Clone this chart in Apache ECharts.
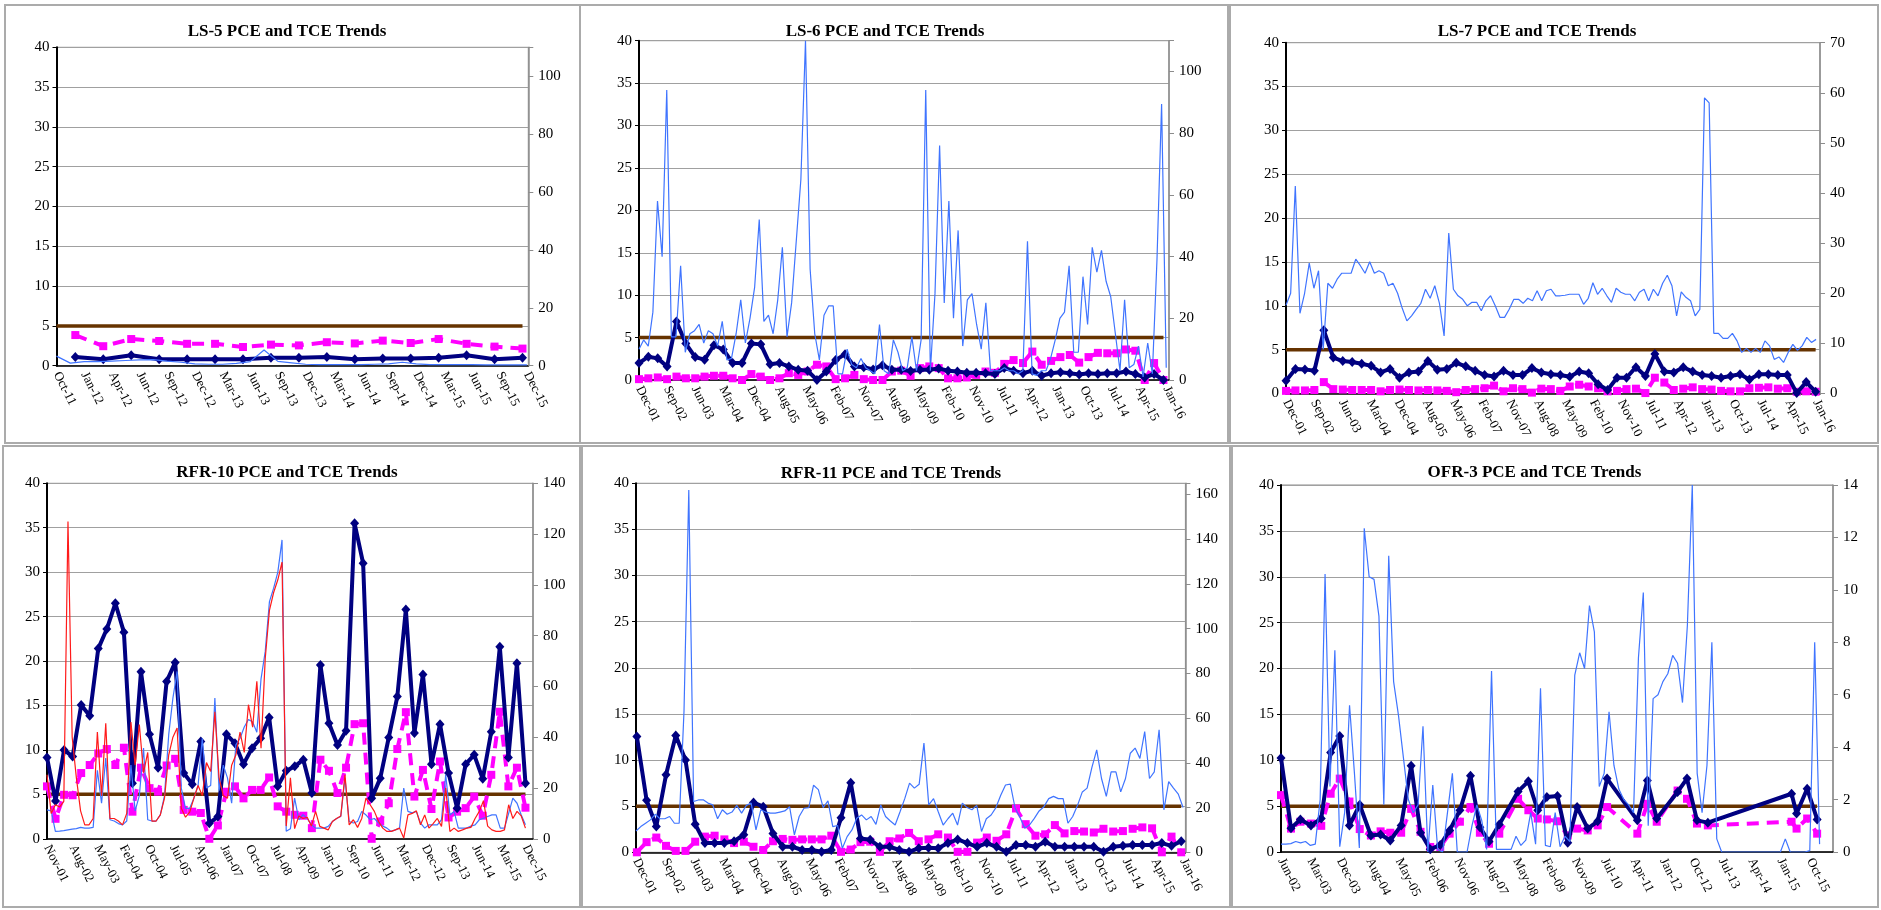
<!DOCTYPE html>
<html><head><meta charset="utf-8">
<script src="https://cdn.jsdelivr.net/npm/echarts@6/dist/echarts.min.js"></script>
<style>html,body{margin:0;padding:0;background:#fff}#c{width:1881px;height:910px}</style>
</head><body><div id="c"></div>
<script>
// ---------- DATA ----------
const MCL = 5;

const ls5Title = 'LS-5 PCE and TCE Trends';
const ls5Labels = ['Oct-11','Jan-12','Apr-12','Jun-12','Sep-12','Dec-12','Mar-13','Jun-13','Sep-13','Dec-13','Mar-14','Jun-14','Sep-14','Dec-14','Mar-15','Jun-15','Sep-15','Dec-15'];
const ls5Pce = [1.1,0.8,1.3,0.8,0.8,0.8,0.8,1.0,1.0,1.1,0.8,0.9,0.9,1.0,1.3,0.8,1.0];
const ls5Tce = [3.85,2.45,3.35,3.1,2.75,2.75,2.35,2.65,2.55,2.95,2.8,3.15,2.85,3.35,2.75,2.4,2.15];
const ls5Blue = [3.3,0.9,1.4,1.4,1.6,1.8,2.0,2.1,1.6,1.2,0.6,0.5,0.5,0.8,1.4,5.4,1.5,1.0,0.5,0.4,0.4,0.4,0.4,0.5,0.6,1.2,0.6,0.4,0.4,0.4,0.4,0.3,0.3,0.3,0.3];

const ls6Title = 'LS-6 PCE and TCE Trends';
const ls6Labels = ['Dec-01','Sep-02','Jun-03','Mar-04','Dec-04','Aug-05','May-06','Feb-07','Nov-07','Aug-08','May-09','Feb-10','Nov-10','Jul-11','Apr-12','Jan-13','Oct-13','Jul-14','Apr-15','Jan-16'];
const ls6Pce = [2.0,2.75,2.55,1.6,6.9,4.3,2.7,2.4,4.1,3.6, 2.0,2.0,4.3,4.2,1.85,2.0,1.6,1.2,1.1,0.0, 1.0,2.35,3.05,1.6,1.5,1.25,1.75,1.2,1.2,1.05, 1.2,1.2,1.35,1.1,1.0,0.85,0.85,0.8,0.7,1.4, 1.1,0.8,1.1,0.5,0.8,0.9,0.8,0.65,0.8,0.7, 0.8,0.8,1.0,0.7,0.3,0.7,0.0];
const ls6Tce = [0.1,0.2,0.3,0.1,0.4,0.2,0.2,0.4,0.5,0.5, 0.2,0.0,0.7,0.4,0.0,0.2,0.8,0.6,1.0,1.8, 1.6,0.1,0.2,0.6,0.1,0.0,0.0,1.0,1.1,0.5, 1.4,1.6,1.4,0.2,0.2,0.3,0.6,1.0,0.85,1.9, 2.35,2.0,3.35,1.8,2.25,2.7,2.95,2.05,2.7,3.2, 3.15,3.15,3.6,3.45,0.0,2.0,0.0];
const ls6Blue = [10,13,11,22,58,40,94,14,14,37, 9,15,16,18,12,16,15,11,19,6.5, 7,15,26,12,20,30,52,19,21,15, 26,43,14,25,45,65,110,36,15,6.5, 21,24,24,2,2,10,5,4,7,4, 3,2,18,3,2,13,9,3,4,14, 3,13,94,3,28,76,25,58,20,48.5, 11,26,28,18,10,25,3,3,3,4, 3,3,2,3,45,2,1.5,3,3,7, 13,20,22,37,9,9,33.5,18,43,35, 42,32,27,15,3,26,4,5,11,1, 12,2,39,89.5,4];

const ls7Title = 'LS-7 PCE and TCE Trends';
const ls7Labels = ['Dec-01','Sep-02','Jun-03','Mar-04','Dec-04','Aug-05','May-06','Feb-07','Nov-07','Aug-08','May-09','Feb-10','Nov-10','Jul-11','Apr-12','Jan-13','Oct-13','Jul-14','Apr-15','Jan-16'];
const ls7Pce = [1.45,2.8,2.75,2.6,7.2,4.1,3.7,3.6,3.4,3.15, 2.4,2.8,1.8,2.4,2.5,3.7,2.7,2.8,3.5,3.1, 2.6,2.1,1.95,2.6,2.1,2.1,2.9,2.4,2.2,2.1, 1.9,2.5,2.3,1.05,0.4,1.8,1.8,3.0,2.0,4.5, 2.5,2.4,3.0,2.5,2.1,2.0,1.8,2.0,2.2,1.6, 2.2,2.2,2.1,2.1,0.05,1.3,0.2];
const ls7Tce = [0.3,0.35,0.35,0.4,1.3,0.5,0.45,0.4,0.4,0.4, 0.25,0.4,0.45,0.4,0.35,0.4,0.35,0.3,0.15,0.4, 0.5,0.6,0.9,0.25,0.6,0.5,0.1,0.55,0.5,0.3, 0.8,1.0,0.8,0.6,0.25,0.3,0.5,0.55,0.05,1.8, 1.25,0.4,0.55,0.7,0.5,0.45,0.3,0.25,0.25,0.6, 0.65,0.7,0.55,0.6,0.2,0.25,0.2];
const ls7Blue = [17.6,20,41.4,16,20,26,21,24.5,8.8,22, 21,22.8,24,24,24,26.8,25.5,24,26.3,24, 24.5,24,21.5,22,20,17,14.5,15.5,16.8,18, 20.8,19,21.5,18,11.5,32,20.8,19.5,18.8,17.5, 18.2,18.2,16.5,18.5,19.5,17.5,15.2,15.2,16.8,18.8, 18.8,18,19,18.5,20.5,18.5,20.5,20.8,19.5,19.5, 19.6,19.8,19.8,19.8,17.8,19,22.1,19.8,21,19.5, 18.2,21,20.2,19.8,19.8,18.5,20.2,20.8,18.5,20.8, 19.5,22,23.6,21.5,15.5,20.3,19.2,18.5,15.5,16.8, 59,58,12,12,11,11,12,10.5,8.2,9, 8.2,9,8.2,10.5,9.5,6.8,7.3,6.2,8.2,9.8, 8.6,9.5,11.2,10.2,10.8];

const rfr10Title = 'RFR-10 PCE and TCE Trends';
const rfr10Labels = ['Nov-01','Aug-02','May-03','Feb-04','Oct-04','Jul-05','Apr-06','Jan-07','Oct-07','Jul-08','Apr-09','Jan-10','Sep-10','Jun-11','Mar-12','Dec-12','Sep-13','Jun-14','Mar-15','Dec-15'];
const rfr10Pce = [9.15,4.25,10.0,9.25,15.05,13.85,21.4,23.6,26.5,23.25, 6.25,18.8,11.75,8.0,17.7,19.85,7.4,6.15,10.95,1.75, 2.5,11.75,10.75,8.4,10.2,11.3,13.65,5.9,7.65,8.15, 8.9,5.15,19.55,13.0,10.55,12.15,35.5,31.0,4.55,6.8, 11.4,16.0,25.8,11.9,18.5,8.4,12.9,7.4,3.45,8.4, 9.45,6.75,12.05,21.6,9.15,19.75,6.25];
const rfr10Tce = [5.9,2.25,4.95,4.9,7.4,8.3,9.6,10.1,8.3,10.25, 3.05,8.0,5.7,5.3,8.25,9.0,3.25,3.05,2.9,0.0, 1.5,5.3,5.9,4.55,5.5,5.5,6.9,3.65,3.05,2.7, 2.6,1.2,8.9,7.65,5.15,8.0,12.9,13.0,0.0,1.95, 4.0,10.1,14.25,4.75,7.75,3.35,8.7,2.4,3.05,3.45, 4.75,2.6,7.2,14.3,5.9,8.0,3.5];
const rfr10Blue = [11.4,11,2.9,3,3.2,3.5,3.8,4,4.5,4.2, 4.2,4.5,27,14,31.8,7.5,7,6,5.5,7, 29,11,17,35.7,7.5,7,7,9.4,17,41, 55.4,65.9,20,12,12,16,21,39.6,20,21, 55.4,19,29,24,14,37,39.6,44,47,46, 42,63,73.8,93.4,98.7,105,117.7,3,4,16, 7.5,9.5,8,5.5,4.2,4.2,4.2,4.9,6.8,8, 8.8,24,6.8,6.2,6.8,10.8,9.4,7.5,8,6.2, 5,4.2,2.9,3.5,4.2,20,10.8,10.2,10.8,6.2, 4.2,5.5,5.5,5.5,7.5,25.2,9.4,10.8,4.2,4.2, 4.2,5,5.5,7.5,8.1,8.8,9.4,9.4,4.2,4.2, 10,16,14,9.4,5.5];
const rfr10Red = [25.2,10,13.4,12.5,14.7,125,40,24,11,5.5, 5.5,8,42,17,45.5,8,8,7,5.5,10, 46,29,45,26,34,7,7,9.4,16,33, 40,43.6,12,8.5,10.5,16,21,17,30,26.5, 50,24,17,16,29,33,42,34,52.8,44, 62,35.7,71,90,97,102,109,5,24,4, 9,8,8.5,5,10.8,4.9,4.2,3.5,6.8,8, 9,25.2,5.5,7.5,4.5,8,16,13.4,10.8,6.8, 4.2,2.9,2.9,3.5,4.2,0.3,9.4,10,11,5.5, 9.4,4.2,6,8,4.9,20,2.9,4.2,2.9,3.5, 4.2,4.5,8,10.8,15,5,3.5,2.9,2.9,3.5, 13.4,8,10.8,9,4.2];

const rfr11Title = 'RFR-11 PCE and TCE Trends';
const rfr11Labels = ['Dec-01','Sep-02','Jun-03','Mar-04','Dec-04','Aug-05','May-06','Feb-07','Nov-07','Aug-08','May-09','Feb-10','Nov-10','Jul-11','Apr-12','Jan-13','Oct-13','Jul-14','Apr-15','Jan-16'];
const rfr11Pce = [12.55,5.65,2.8,8.4,12.65,10.0,3.05,1.0,1.0,1.0, 1.2,1.9,5.4,4.95,2.05,0.6,0.6,0.25,0.25,0.05, 0.25,3.75,7.55,1.5,1.35,0.6,0.6,0.25,0.05,0.45, 0.5,0.45,1.0,1.4,1.0,0.6,1.0,0.6,0.05,0.8, 0.8,0.6,1.15,0.6,0.6,0.6,0.6,0.6,0.05,0.6, 0.7,0.8,0.8,0.8,1.0,0.7,1.2];
const rfr11Tce = [0,1.1,1.6,0.7,0.15,0.15,1.15,1.7,1.8,1.4, 1.0,1.15,0.6,0.25,1.2,1.45,1.35,1.4,1.4,1.4, 1.8,0.05,0.3,1.1,1.15,0.05,1.2,1.5,2.1,1.2, 1.4,1.95,1.6,0.05,0.05,1.05,1.6,1.25,1.95,4.75, 3.05,1.8,1.95,2.95,2.05,2.3,2.25,2.15,2.55,2.25, 2.3,2.55,2.7,2.6,0,1.7,0];
const rfr11Blue = [9.5,11.5,13,14.5,17,15,15,16,13,13, 63,162,22.7,23.4,23.5,22,21.2,15,19,17, 18,21,17.5,21,22,10,19,18,17.5,17.5, 18,18.5,20.4,7.8,16,19.7,20,30,28,20, 23,11.5,12,1.8,7,10,15.2,16.7,14.5,16, 12.5,21.2,16,14,12.2,18,24,30.9,28.7,30.4, 48.8,21.2,24,18,12.2,15,17.5,12.2,22,20, 19,21,9.3,15,16.7,20,25.5,30.1,30.5,19.7, 15.7,10.8,12.2,15.2,18.5,20.4,24,25,24,24, 13,16,21,27,28.7,38,45.8,33,25,36, 36,27,33,44.3,46.6,42,54,33,36,54.8, 19,31.6,28.7,26,20];

const ofr3Title = 'OFR-3 PCE and TCE Trends';
const ofr3Labels = ['Jun-02','Mar-03','Dec-03','Aug-04','May-05','Feb-06','Nov-06','Aug-07','May-08','Feb-09','Nov-09','Jul-10','Apr-11','Jan-12','Oct-12','Jul-13','Apr-14','Jan-15','Oct-15'];
const ofr3Dates = [0,0.34,0.66,1.02,1.37,1.69,2.0,2.33,2.68,3.06, 3.39,3.72,4.09,4.43,4.75,5.08,5.42,5.74,6.09,6.45, 6.77,7.08,7.43,8.07,8.42,8.74,9.05,9.41,9.76,10.08, 10.44,10.78,11.1,12.13,12.47,12.79,13.5,13.82,14.16,14.53, 17.38,17.55,17.91,18.25];
const ofr3Pce = [10.25,2.6,3.55,2.9,3.65,10.85,12.65,2.9,5.15,1.8, 1.9,1.25,2.9,9.4,2.1,0.3,0.75,2.35,4.55,8.3, 2.7,1.15,3.0,6.6,7.7,4.55,6.0,6.1,1.0,4.9, 2.55,3.35,8.0,3.45,7.8,3.65,6.55,8.0,3.45,3.2, 6.35,4.2,6.9,3.55];
const ofr3Tce = [6.2,2.55,3.3,3.1,2.85,6.35,8.0,5.5,2.5,1.8, 2.25,2.1,2.1,4.7,2.2,0.55,0.55,2.0,3.3,4.9, 2.1,0.9,2.0,5.8,4.55,3.65,3.55,3.35,1.8,2.55, 2.35,2.9,4.9,2.0,5.25,3.3,6.7,5.8,3.1,2.9, 3.3,2.55,3.65,2.0];
const ofr3Blue = [0.3,0.3,0.32,0.4,0.35,0.4,0.25,0.3,2.0,10.6, 2.5,7.7,0.2,1.5,5.6,3.0,0.15,12.35,10.5,10.4, 9.0,1.8,11.3,6.5,5.2,3.6,2.0,1.5,1.8,4.8, 0,2.55,0.1,0,1.5,3.0,0,0,0,1, 1.8,1.2,0.1,6.9,0.1,0.1,0.1,0.1,0.6,0.25, 0.45,1.5,0.3,6.25,0.25,0.2,1.5,0.2,0.6,0.4, 6.75,7.6,7.0,9.4,8.4,2.5,3.0,5.35,3.3,2.4, 2.0,1.8,1.5,7.4,9.9,1.0,5.85,6.0,6.5,6.8, 7.5,7.2,5.7,8.65,14,3,1.5,3.3,8.0,0.5, 0,0,0,0,0,0,0,0,0,0, 0,0,0,0.5,0,0,0,0,0.05,8.0, 0.3];

// ---------- STYLE / LAYOUT ----------
const BLUE = '#3F74FF', RED = '#FF1A1A', NAVY = '#000080', MAG = '#FF00FF', BROWN = '#663300';
const SERIF = '"Liberation Serif", "Times New Roman", serif';
const gridRects = [
  [56.5, 47.3, 471.8, 318.4],
  [639, 40.7, 530, 339.3],
  [1286, 42.7, 534, 350.8],
  [47, 483.3, 486, 355.5],
  [636, 483.3, 549.4, 369],
  [1281, 485, 552, 367]
];
const panelRects = [[5,5,575,438],[580,5,648,438],[1230,5,648,438],[3,446,577,461],[582,446,648,461],[1232,446,646,461]];
const titlePos = [[287,31.7],[885,32],[1537,31.7],[287,472.3],[891,473.3],[1534.5,472.3]];

function pts(vals, x0, step) { return vals.map((v, i) => [x0 + i * step, v]); }
function ptsX(vals, xs) { return vals.map((v, i) => [xs[i], v]); }

const panels = [
  {title: ls5Title, labels: ls5Labels, xMax: 17.05, rMax: 110, rInt: 20,
   pce: pts(ls5Pce, 0.68, 1.01), tce: pts(ls5Tce, 0.68, 1.01), thin: [[pts(ls5Blue, 0, 0.5), BLUE]]},
  {title: ls6Title, labels: ls6Labels, xMax: 19.1, rMax: 110, rInt: 20,
   pce: pts(ls6Pce, 0, 0.3375), tce: pts(ls6Tce, 0, 0.3375), thin: [[pts(ls6Blue, 0, 1/6), BLUE]]},
  {title: ls7Title, labels: ls7Labels, xMax: 19.14, rMax: 70, rInt: 10,
   pce: pts(ls7Pce, 0, 0.339), tce: pts(ls7Tce, 0, 0.339), thin: [[pts(ls7Blue, 0, 1/6), BLUE]]},
  {title: rfr10Title, labels: rfr10Labels, xMax: 19.3, rMax: 140, rInt: 20,
   pce: pts(rfr10Pce, 0, 0.3393), tce: pts(rfr10Tce, 0, 0.3393), thin: [[pts(rfr10Blue, 0, 1/6), BLUE], [pts(rfr10Red, 0, 1/6), RED]]},
  {title: rfr11Title, labels: rfr11Labels, xMax: 19.08, rMax: 165, rInt: 20,
   pce: pts(rfr11Pce, 0.03, 0.3376), tce: pts(rfr11Tce, 0.03, 0.3376), thin: [[pts(rfr11Blue, 0, 1/6), BLUE]]},
  {title: ofr3Title, labels: ofr3Labels, xMax: 18.79, rMax: 14, rInt: 2,
   pce: ptsX(ofr3Pce, ofr3Dates), tce: ptsX(ofr3Tce, ofr3Dates), thin: [[pts(ofr3Blue, 0, 1/6), BLUE]]}
];

const grids = [], xAxes = [], yAxes = [], series = [], graphics = [];
panels.forEach((p, i) => {
  const r = gridRects[i];
  grids.push({left: r[0], top: r[1], width: r[2], height: r[3], show: true, borderColor: '#8C8C8C', borderWidth: 1, backgroundColor: 'transparent', containLabel: false, outerBoundsMode: 'none'});
  xAxes.push({type: 'value', gridIndex: i, min: 0, max: p.xMax, interval: 1,
    axisLine: {show: true, onZero: false, lineStyle: {color: '#000', width: 1.5}},
    axisTick: {show: false}, splitLine: {show: false},
    axisLabel: {rotate: -63, margin: 7, fontFamily: SERIF, fontSize: 13, color: '#000', showMinLabel: true, showMaxLabel: true,
      formatter: v => { const k = Math.round(v); return (Math.abs(v - k) < 1e-6 && p.labels[k]) ? p.labels[k] : ''; }}});
  yAxes.push({type: 'value', gridIndex: i, position: 'left', min: 0, max: 40, interval: 5,
    axisLine: {show: true, onZero: false, lineStyle: {color: '#000', width: 2}},
    axisTick: {show: true, length: 4, lineStyle: {color: '#000'}},
    axisLabel: {fontFamily: SERIF, fontSize: 15, color: '#000', margin: 7},
    splitLine: {show: true, lineStyle: {color: '#A0A0A0', width: 1}}});
  yAxes.push({type: 'value', gridIndex: i, position: 'right', min: 0, max: p.rMax, interval: p.rInt,
    axisLine: {show: true, onZero: false, lineStyle: {color: '#8C8C8C', width: 1.5}},
    axisTick: {show: true, length: 5, lineStyle: {color: '#8C8C8C'}},
    axisLabel: {fontFamily: SERIF, fontSize: 15, color: '#000', margin: 10,
      formatter: v => (Math.abs(v % p.rInt) < 1e-6 ? String(v) : '')},
    splitLine: {show: false}});
  const lastX = p.pce[p.pce.length - 1][0];
  series.push({type: 'line', xAxisIndex: i, yAxisIndex: 2 * i, data: [[0, MCL], [lastX, MCL]], symbol: 'none', silent: true,
    lineStyle: {color: BROWN, width: 3.5}, z: 2});
  series.push({type: 'line', xAxisIndex: i, yAxisIndex: 2 * i, data: p.tce, symbol: 'rect', symbolSize: 8, silent: true,
    itemStyle: {color: MAG}, lineStyle: {color: MAG, width: 4, type: [12, 8]}, z: 3});
  series.push({type: 'line', xAxisIndex: i, yAxisIndex: 2 * i, data: p.pce, symbol: 'diamond', symbolSize: [9, 10], silent: true,
    itemStyle: {color: NAVY}, lineStyle: {color: NAVY, width: 4}, z: 4});
  p.thin.forEach(t => {
    series.push({type: 'line', xAxisIndex: i, yAxisIndex: 2 * i + 1, data: t[0], symbol: 'none', silent: true,
      lineStyle: {color: t[1], width: 1.2}, z: 5});
  });
  const b = panelRects[i];
  graphics.push({type: 'rect', shape: {x: b[0], y: b[1], width: b[2], height: b[3]}, silent: true,
    style: {fill: 'none', stroke: '#ABABAB', lineWidth: 2}, z: 1});
  graphics.push({type: 'text', x: titlePos[i][0], y: titlePos[i][1], silent: true,
    style: {text: p.title, font: 'bold 17px ' + SERIF, fill: '#000', textAlign: 'center', textVerticalAlign: 'middle'}, z: 10});
});

const chart = echarts.init(document.getElementById('c'), null, {renderer: 'canvas'});
chart.setOption({
  animation: false,
  backgroundColor: '#fff',
  grid: grids, xAxis: xAxes, yAxis: yAxes, series: series, graphic: graphics,
  tooltip: {show: false}
});
</script></body></html>
